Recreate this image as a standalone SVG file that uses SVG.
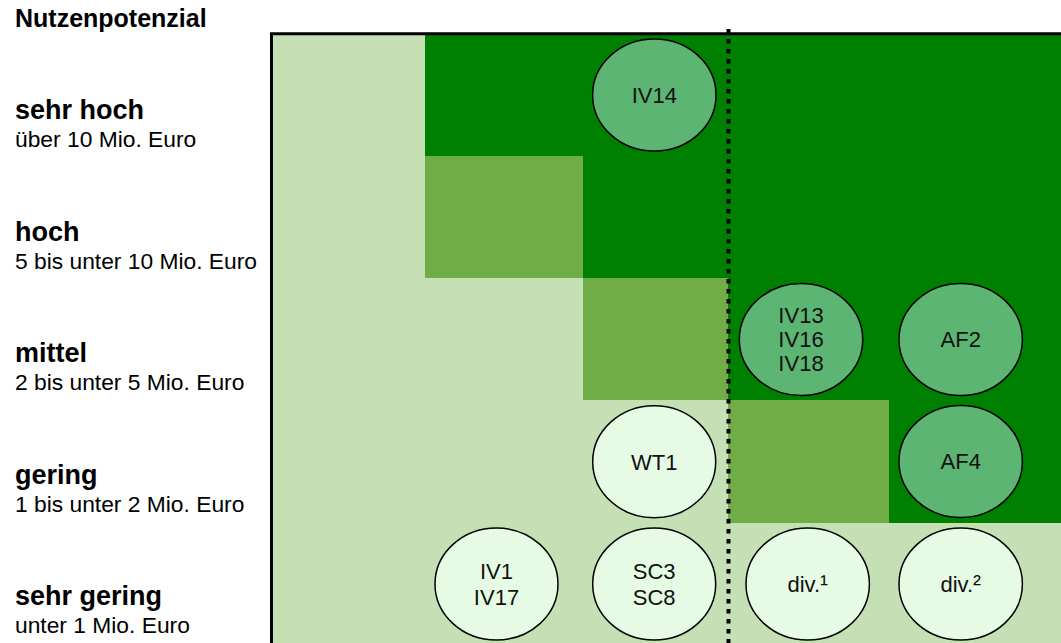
<svg xmlns="http://www.w3.org/2000/svg" width="1061" height="643" viewBox="0 0 1061 643">
<style>
.light{fill:#C5E0B4}
.mid{fill:#70AD47}
.dark{fill:#008000}
.e1{fill:#5CB573;stroke:#000;stroke-width:1.5}
.e2{fill:#E5FBE3;stroke:#000;stroke-width:1.5}
.t{font-family:"Liberation Sans",Arial,sans-serif;font-size:22px;fill:#111;text-anchor:middle}
.sup{font-size:24px}
.cat{font-family:"Liberation Sans",Arial,sans-serif;font-size:27px;font-weight:bold;fill:#000}
.sub{font-family:"Liberation Sans",Arial,sans-serif;font-size:22.8px;fill:#000}
</style>
<rect width="1061" height="643" fill="#fff"/>
<g id="grid">
<rect class="light" x="272" y="34" width="789" height="609"/>
<rect class="dark" x="425" y="34" width="636" height="122"/>
<rect class="dark" x="583" y="156" width="478" height="122"/>
<rect class="dark" x="728" y="278" width="333" height="122"/>
<rect class="dark" x="889" y="400" width="172" height="123"/>
<rect class="mid" x="425" y="156" width="158" height="122"/>
<rect class="mid" x="583" y="278" width="145" height="122"/>
<rect class="mid" x="728" y="400" width="161" height="123"/>
<path d="M271.5 643 V33.7 H1061" fill="none" stroke="#000" stroke-width="3"/>
</g>
<g id="divider">
<line x1="728.5" y1="29" x2="728.5" y2="643" stroke="#000" stroke-width="4" stroke-dasharray="4.5 5.5"/>
</g>
<g id="axis">
<text class="cat" x="15" y="26.7" style="font-size:25px">Nutzenpotenzial</text>
<text class="cat" x="15" y="119.3">sehr hoch</text>
<text class="sub" x="15" y="147.3">über 10 Mio. Euro</text>
<text class="cat" x="15" y="240.7">hoch</text>
<text class="sub" x="15" y="268.8">5 bis unter 10 Mio. Euro</text>
<text class="cat" x="15" y="362.1">mittel</text>
<text class="sub" x="15" y="390.3">2 bis unter 5 Mio. Euro</text>
<text class="cat" x="15" y="483.6">gering</text>
<text class="sub" x="15" y="511.8">1 bis unter 2 Mio. Euro</text>
<text class="cat" x="15" y="605">sehr gering</text>
<text class="sub" x="15" y="633.3">unter 1 Mio. Euro</text>
</g>
<g id="IV14"><ellipse class="e1" cx="654.3" cy="95" rx="61.7" ry="56"/><text class="t" x="654.3" y="102.7">IV14</text></g>
<g id="IV13"><ellipse class="e1" cx="801" cy="339.5" rx="61.7" ry="56"/><text class="t" x="801" y="323.3">IV13</text><text class="t" x="801" y="347.1">IV16</text><text class="t" x="801" y="370.9">IV18</text></g>
<g id="AF2"><ellipse class="e1" cx="960.7" cy="339.5" rx="61.7" ry="56"/><text class="t" x="960.7" y="347.3">AF2</text></g>
<g id="WT1"><ellipse class="e2" cx="654.2" cy="461.7" rx="61.5" ry="56"/><text class="t" x="654.2" y="469.5">WT1</text></g>
<g id="AF4"><ellipse class="e1" cx="960.7" cy="461.5" rx="61.7" ry="56"/><text class="t" x="960.7" y="469.3">AF4</text></g>
<g id="IV1"><ellipse class="e2" cx="496.5" cy="584" rx="61.5" ry="56"/><text class="t" x="496.5" y="579.3">IV1</text><text class="t" x="496.5" y="605">IV17</text></g>
<g id="SC3"><ellipse class="e2" cx="654.2" cy="584" rx="61.5" ry="56"/><text class="t" x="654.2" y="579.3">SC3</text><text class="t" x="654.2" y="605">SC8</text></g>
<g id="div1"><ellipse class="e2" cx="807.7" cy="584" rx="61.7" ry="56"/><text class="t" x="807.7" y="592">div.<tspan class="sup">¹</tspan></text></g>
<g id="div2"><ellipse class="e2" cx="960.7" cy="584" rx="61.7" ry="56"/><text class="t" x="960.7" y="592">div.<tspan class="sup">²</tspan></text></g>
</svg>
